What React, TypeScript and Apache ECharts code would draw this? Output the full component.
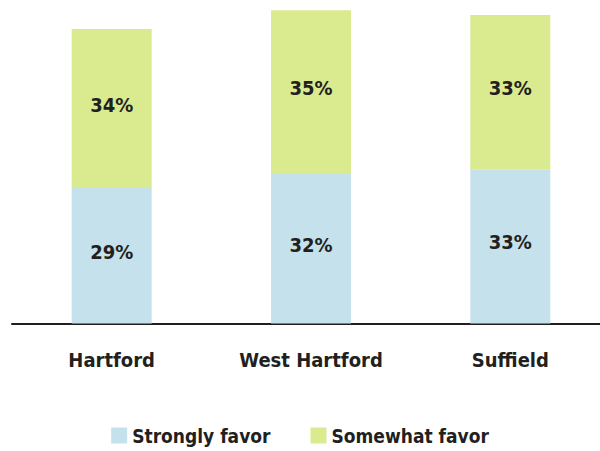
import React, { useEffect, useRef } from "react";
import * as echarts from "echarts";

const categories = ["Hartford", "West Hartford", "Suffield"];
const stronglyFavor = [29, 32, 33];
const somewhatFavor = [34, 35, 33];
const seriesNames = ["Strongly favor", "Somewhat favor"];

const FONT = "'DejaVu Sans Condensed', 'Liberation Sans Narrow', sans-serif";
const TEXT = "#231f20";
const FS = 20;

export default function App() {
  const ref = useRef<HTMLDivElement>(null);
  useEffect(() => {
    if (!ref.current) return;
    const chart = echarts.init(ref.current, null, { renderer: "svg" });
    const label = {
      show: true,
      position: "inside",
      offset: [0, -4],
      formatter: (p: any) => p.value + "%",
      color: TEXT,
      fontFamily: FONT,
      fontSize: FS,
      fontWeight: "bold",
    };
    chart.setOption({
      animation: false,
      textStyle: { fontFamily: FONT },
      grid: { left: 12, width: 598, top: 1, height: 322.5, containLabel: false, outerBoundsMode: "none" },
      xAxis: {
        type: "category",
        data: categories,
        axisLine: { lineStyle: { color: TEXT, width: 2 } },
        axisTick: { show: false },
        axisLabel: { interval: 0, color: TEXT, fontFamily: FONT, fontSize: FS, fontWeight: "bold", margin: 26 },
      },
      yAxis: { type: "value", min: 0, max: 69, show: false, splitLine: { show: false } },
      legend: {
        bottom: 1,
        left: "center",
        itemWidth: 16,
        itemHeight: 16,
        itemGap: 40,
        icon: "rect",
        textStyle: { color: TEXT, fontFamily: FONT, fontSize: 19, fontWeight: "bold" },
        data: seriesNames,
      },
      series: [
        {
          name: seriesNames[0],
          type: "bar",
          stack: "total",
          barWidth: 80,
          data: stronglyFavor,
          itemStyle: { color: "#c5e1ec" },
          label,
        },
        {
          name: seriesNames[1],
          type: "bar",
          stack: "total",
          barWidth: 80,
          data: somewhatFavor,
          itemStyle: { color: "#d9eb8e" },
          label,
        },
      ],
    });
    return () => chart.dispose();
  }, []);
  return <div ref={ref} style={{ width: 600, height: 451, position: "absolute", left: 0, top: 0 }} />;
}
